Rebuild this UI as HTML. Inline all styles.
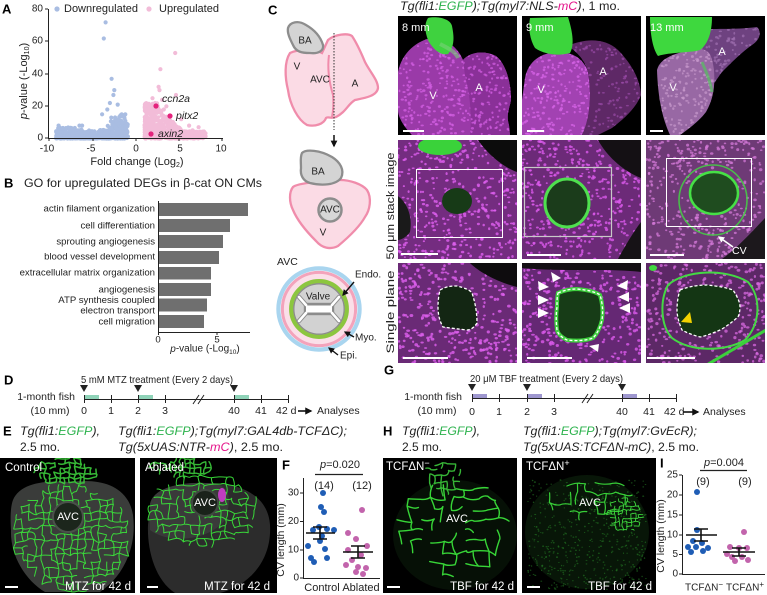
<!DOCTYPE html>
<html><head><meta charset="utf-8">
<style>
html,body{margin:0;padding:0;background:#fff;width:767px;height:595px;overflow:hidden}
svg{display:block;font-family:"Liberation Sans",Arial,sans-serif}
text{dominant-baseline:central}
.b{font-weight:bold;font-size:13px}
.i{font-style:italic}
</style></head><body>
<svg id="s" width="767" height="595" viewBox="0 0 767 595" xmlns="http://www.w3.org/2000/svg">
<defs id="defs">
<marker id="ah" viewBox="0 0 10 10" refX="8" refY="5" markerWidth="4.5" markerHeight="4.5" orient="auto"><path d="M0,0 L10,5 L0,10 Z" fill="#111"/></marker>
<marker id="ahw" viewBox="0 0 10 10" refX="8" refY="5" markerWidth="4" markerHeight="4" orient="auto"><path d="M0,0 L10,5 L0,10 Z" fill="#fff"/></marker>
<clipPath id="c21"><rect x="398" y="140" width="119" height="119"/></clipPath>
<clipPath id="c22"><rect x="522" y="140" width="119" height="119"/></clipPath>
<clipPath id="c23"><rect x="646" y="140" width="119" height="119"/></clipPath>
<clipPath id="c31"><rect x="398" y="263" width="119" height="100"/></clipPath>
<clipPath id="c32"><rect x="522" y="263" width="119" height="100"/></clipPath>
<clipPath id="c33"><rect x="646" y="263" width="119" height="100"/></clipPath>
<clipPath id="cE1"><rect x="0" y="458" width="135" height="135"/></clipPath>
<clipPath id="cE2"><rect x="140" y="458" width="137" height="135"/></clipPath>
<clipPath id="cH1"><rect x="383" y="458" width="134" height="135"/></clipPath>
<clipPath id="cH2"><rect x="522" y="458" width="134" height="135"/></clipPath>
</defs>

<!-- ================= A ================= -->
<text x="2" y="9" class="b">A</text>
<circle cx="57" cy="9" r="2.6" fill="#a9bde2"/>
<text x="64" y="9" font-size="11" textLength="74" lengthAdjust="spacingAndGlyphs" fill="#222">Downregulated</text>
<circle cx="149" cy="9" r="2.6" fill="#f2bcd8"/>
<text x="159" y="9" font-size="11" textLength="60" lengthAdjust="spacingAndGlyphs" fill="#222">Upregulated</text>
<g id="volc"></g>
<circle cx="156" cy="106" r="2.6" fill="#e4237c"/>
<circle cx="170" cy="116" r="2.6" fill="#e4237c"/>
<circle cx="151" cy="134" r="2.6" fill="#e4237c"/>
<g font-size="10.5" class="i" fill="#222">
<text x="162" y="99">ccn2a</text>
<text x="176" y="116">pitx2</text>
<text x="158" y="134">axin2</text>
</g>
<g stroke="#222" stroke-width="1" fill="none">
<path d="M48.5,9 V138.5 H223"/>
<path d="M45,9H48M45,41H48M45,74H48M45,106H48M45,138H48"/>
<path d="M49,138V141M93,138V141M136,138V141M179,138V141M222,138V141"/>
</g>
<g font-size="10" text-anchor="end" fill="#222">
<text x="43" y="9">80</text><text x="43" y="41">60</text><text x="43" y="74">40</text><text x="43" y="106">20</text><text x="43" y="138">0</text>
</g>
<g font-size="10" text-anchor="middle" fill="#222">
<text x="47" y="149">-10</text><text x="91" y="149">-5</text><text x="136" y="149">0</text><text x="180" y="149">5</text><text x="221" y="149">10</text>
</g>
<text x="137" y="162" font-size="11" text-anchor="middle" fill="#222">Fold change (Log<tspan font-size="7" dy="3">2</tspan><tspan dy="-3">)</tspan></text>
<text transform="translate(24,81) rotate(-90)" font-size="11" text-anchor="middle" fill="#222"><tspan class="i">p</tspan>-value (-Log<tspan font-size="7" dy="3">10</tspan><tspan dy="-3">)</tspan></text>

<!-- ================= B ================= -->
<text x="4" y="183" class="b">B</text>
<text x="24" y="183" font-size="12" textLength="238" lengthAdjust="spacingAndGlyphs" fill="#222">GO for upregulated DEGs in β-cat ON CMs</text>
<g fill="#6f6f6f">
<rect x="158" y="203" width="90" height="13"/>
<rect x="158" y="219" width="72" height="13"/>
<rect x="158" y="235" width="65" height="13"/>
<rect x="158" y="251" width="61" height="13"/>
<rect x="158" y="267" width="53" height="12.5"/>
<rect x="158" y="283" width="53" height="13"/>
<rect x="158" y="298.5" width="49" height="13"/>
<rect x="158" y="315" width="46" height="13"/>
</g>
<g stroke="#222" stroke-width="1" fill="none">
<path d="M158.5,201 V332.5 H250"/>
<path d="M158.5,332V335M217,332V335"/>
</g>
<g font-size="9.6" text-anchor="end" fill="#222">
<text x="155" y="209">actin filament organization</text>
<text x="155" y="226">cell differentiation</text>
<text x="155" y="242">sprouting angiogenesis</text>
<text x="155" y="257">blood vessel development</text>
<text x="155" y="273">extracellular matrix organization</text>
<text x="155" y="290">angiogenesis</text>
<text x="155" y="300.5">ATP synthesis coupled</text>
<text x="155" y="311">electron transport</text>
<text x="155" y="322">cell migration</text>
</g>
<g font-size="9.6" text-anchor="middle" fill="#222">
<text x="158" y="340">0</text><text x="217" y="340">5</text>
</g>
<text x="205" y="349" font-size="10" text-anchor="middle" fill="#222"><tspan class="i">p</tspan>-value (-Log<tspan font-size="6.5" dy="3">10</tspan><tspan dy="-3">)</tspan></text>

<!-- ================= C diagram ================= -->
<text x="268" y="10" class="b">C</text>
<path d="M290,53 C298,49 315,49 322,53 L328,40 C335,34 348,33 352,36 C358,45 362,55 365,62 C370,72 378,80 378,88 C377,96 365,98 355,100 C348,104 346,112 336,117 C330,119 328,116 326,118 C324,124 315,127 307,125 C298,120 290,105 288,90 C285,78 284,62 290,53 Z" fill="#fbdbe5" stroke="#f08cab" stroke-width="2.3"/>
<path d="M329,55 C327,70 330,85 333,95 C334,105 333,112 332,117" fill="none" stroke="#f08cab" stroke-width="2"/>
<path d="M288,28 C290,22 298,20 306,25 C313,29 320,35 323,45 C324,51 318,54 310,53 C302,53 296,52 293,45 C290,39 287,33 288,28 Z" fill="#d4d4d4" stroke="#8d8d8d" stroke-width="2.3"/>
<line x1="334" y1="33" x2="334" y2="130" stroke="#333" stroke-width="1" stroke-dasharray="1.5,1.5"/>
<g font-size="10" fill="#222">
<text x="305" y="41" text-anchor="middle">BA</text>
<text x="297" y="67" text-anchor="middle">V</text>
<text x="320" y="80" text-anchor="middle">AVC</text>
<text x="355" y="84" text-anchor="middle">A</text>
</g>
<line x1="334" y1="135" x2="334" y2="146" stroke="#111" stroke-width="1.5" marker-end="url(#ah)"/>
<path d="M293,187 C297,183 330,180 340,180 C350,180 362,184 367,190 C372,198 370,210 365,217 C360,226 350,236 338,246 C330,250 322,248 316,241 C308,233 298,222 293,210 C289,202 289,192 293,187 Z" fill="#fbdbe5" stroke="#f08cab" stroke-width="2.3"/>
<path d="M302,153 C306,149 320,150 332,157 C340,162 345,170 341,178 C336,185 322,186 310,183 C303,181 300,175 301,168 C301,162 300,157 302,153 Z" fill="#d4d4d4" stroke="#8d8d8d" stroke-width="2.3"/>
<circle cx="330" cy="210" r="11.5" fill="#d7d7d7" stroke="#8d8d8d" stroke-width="2.5"/>
<g font-size="10" fill="#222" text-anchor="middle">
<text x="318" y="172">BA</text>
<text x="330" y="210">AVC</text>
<text x="323" y="233">V</text>
</g>
<text x="277" y="262" font-size="10.5" fill="#222">AVC</text>
<circle cx="319" cy="309" r="40.6" fill="none" stroke="#a9d5ef" stroke-width="4.2"/>
<circle cx="319" cy="309" r="36.6" fill="#fbdfe8" stroke="#f3a3bb" stroke-width="3"/>
<circle cx="319" cy="309" r="27.8" fill="none" stroke="#8cc63f" stroke-width="4.3"/>
<circle cx="319" cy="309" r="25.2" fill="#d2d2d2" stroke="#8c8c8c" stroke-width="1.3"/>
<g stroke="#8c8c8c" stroke-width="4.4" stroke-linecap="round" fill="none">
<path d="M306,305 L299,297 M332,305 L339,297 M306,313 L299,321 M332,313 L339,321"/>
<rect x="306" y="305" width="26" height="8"/>
</g>
<g stroke="#fff" stroke-width="2.6" stroke-linecap="round" fill="none">
<path d="M306,305 L299,297 M332,305 L339,297 M306,313 L299,321 M332,313 L339,321"/>
</g>
<rect x="306" y="305.5" width="26" height="7" fill="#fff"/>
<text x="318" y="297" font-size="10" text-anchor="middle" fill="#222">Valve</text>
<g font-size="10" fill="#222">
<text x="355" y="275">Endo.</text>
<text x="355" y="338">Myo.</text>
<text x="340" y="356">Epi.</text>
</g>
<g stroke="#111" stroke-width="1.4">
<line x1="354" y1="282" x2="343" y2="295" marker-end="url(#ah)"/>
<line x1="354" y1="337" x2="345" y2="332" marker-end="url(#ah)"/>
<line x1="338" y1="355" x2="329" y2="348" marker-end="url(#ah)"/>
</g>

<!-- ================= C micrographs ================= -->
<text x="400" y="7" font-size="11.5" class="i" fill="#222" textLength="220" lengthAdjust="spacingAndGlyphs">Tg(fli1:<tspan fill="#2bb24c">EGFP</tspan>);Tg(myl7:NLS-<tspan fill="#e5168b">mC</tspan>)<tspan font-style="normal">, 1 mo.</tspan></text>
<text transform="translate(391,206) rotate(-90)" text-anchor="middle" font-size="11" fill="#222" textLength="107" lengthAdjust="spacingAndGlyphs">50 μm stack image</text>
<text transform="translate(391,312) rotate(-90)" text-anchor="middle" font-size="11" fill="#222" textLength="83" lengthAdjust="spacingAndGlyphs">Single plane</text>

<!-- row 1 -->
<rect x="398" y="16" width="119" height="119" fill="#000"/>
<rect x="522" y="16" width="119" height="119" fill="#000"/>
<rect x="646" y="16" width="119" height="119" fill="#000"/>
<path id="h1a" d="M398,72 C402,52 418,40 432,38 C447,38 458,48 463,60 C470,52 484,50 496,56 C506,64 511,82 511,100 C509,110 506,115 509,125 L510,135 L412,135 C405,128 398,118 398,110 Z" fill="#9a3aa8"/>
<path id="h1b" d="M463,60 C470,52 484,50 496,56 C506,64 511,82 511,100 C509,110 506,115 509,125 L510,135 L470,135 C472,115 470,95 465,75 Z" fill="#8a3098"/>
<path d="M428,18 C436,16 450,18 452,26 C454,36 455,46 448,54 C440,56 432,48 428,40 C425,32 424,24 428,18 Z" fill="#3fd23f"/>
<path d="M440,44 C448,48 456,52 458,58" stroke="#7ad07a" stroke-width="4" fill="none" opacity=".6"/>
<path id="h2a" d="M525,78 C528,62 540,52 560,52 C575,53 584,60 588,72 C592,95 590,120 582,135 L522,135 L522,100 Z" fill="#a242b2"/>
<path id="h2b" d="M568,46 C585,38 605,38 618,50 C630,62 640,78 641,95 C636,108 625,118 612,128 L598,135 L582,135 C590,118 592,95 588,72 C585,60 577,52 568,46 Z" fill="#5e2866"/>
<path d="M530,18 L568,17 C572,30 575,44 570,53 C560,56 545,55 535,48 C530,40 528,28 530,18 Z" fill="#3cd43c"/>
<path id="h3b" d="M696,30 C712,28 735,30 757,27 C762,32 760,40 752,45 C742,52 732,62 722,72 C716,80 712,88 710,86 C705,70 700,55 696,30 Z" fill="#6e4280"/>
<path id="h3a" d="M657,70 C660,58 675,52 700,49 C710,50 712,56 714,70 C715,85 714,98 706,112 C700,120 690,128 680,135 L670,135 C663,120 658,100 657,70 Z" fill="#9868a4"/>
<path d="M650,17 L712,17 C712,32 708,44 700,50 C690,53 670,52 658,56 C652,48 650,30 650,17 Z" fill="#3ed83e"/>
<path d="M702,62 C706,72 710,80 712,92" stroke="#55c060" stroke-width="3" fill="none" opacity=".7"/>
<g fill="#fff" font-size="11">
<text x="402" y="28">8 mm</text>
<text x="526" y="28">9 mm</text>
<text x="650" y="28">13 mm</text>
</g>
<g fill="#fff" font-size="11" text-anchor="middle">
<text x="433" y="96">V</text><text x="479" y="88">A</text>
<text x="541" y="90">V</text><text x="603" y="72">A</text>
<text x="673" y="88">V</text><text x="722" y="52">A</text>
</g>
<g stroke="#fff" stroke-width="2">
<line x1="403" y1="131" x2="424" y2="131"/>
<line x1="527" y1="131" x2="544" y2="131"/>
<line x1="650" y1="131" x2="663" y2="131"/>
</g>

<!-- row 2 -->
<g clip-path="url(#c21)">
<rect x="398" y="140" width="119" height="119" fill="#742c80"/>
<g id="sp21"></g>
<path d="M478,140 L517,140 L517,172 C505,168 488,155 478,140 Z" fill="#0c0c0c"/>
<path d="M398,196 C406,202 413,215 410,232 C406,238 400,240 398,240 Z" fill="#1a1a1a"/>
<ellipse cx="440" cy="146" rx="22" ry="9" fill="#3ad23a"/>
<ellipse cx="457" cy="201" rx="15" ry="13" fill="#173a17"/>
<rect x="416.5" y="169.5" width="86" height="68" fill="none" stroke="#fff" stroke-width="1"/>
<line x1="401" y1="254" x2="438" y2="254" stroke="#fff" stroke-width="2"/>
</g>
<g clip-path="url(#c22)">
<rect x="522" y="140" width="119" height="119" fill="#6c2a78"/>
<g id="sp22"></g>
<path d="M598,140 L641,140 L641,178 C625,172 608,158 598,140 Z" fill="#141014"/>
<path d="M618,259 L641,259 L641,222 C632,234 624,248 618,259 Z" fill="#161216"/>
<ellipse cx="567" cy="203" rx="22" ry="24" fill="#1b3c1b" stroke="#4fe04f" stroke-width="3"/>
<rect x="524.5" y="167.5" width="87" height="69" fill="none" stroke="#c8c8c8" stroke-width="1.2"/>
<line x1="527" y1="255" x2="561" y2="255" stroke="#fff" stroke-width="2"/>
</g>
<g clip-path="url(#c23)">
<rect x="646" y="140" width="119" height="119" fill="#6e3a76"/>
<g id="sp23"></g>
<path d="M722,259 L765,259 L765,218 C750,234 735,250 722,259 Z" fill="#1c181c"/>
<ellipse cx="713" cy="200" rx="34" ry="35" fill="none" stroke="#44d444" stroke-width="1.6" opacity=".85"/>
<ellipse cx="714" cy="193" rx="24" ry="21" fill="#1f4c1f" stroke="#46e046" stroke-width="2.5"/>
<rect x="666.5" y="158.5" width="85" height="68" fill="none" stroke="#fff" stroke-width="1"/>
<line x1="733" y1="247" x2="719" y2="237" stroke="#fff" stroke-width="1.6" marker-end="url(#ahw)"/>
<text x="732" y="251" fill="#fff" font-size="10.5">CV</text>
<line x1="650" y1="255" x2="684" y2="255" stroke="#fff" stroke-width="2"/>
</g>

<!-- row 3 -->
<g clip-path="url(#c31)">
<rect x="398" y="263" width="119" height="100" fill="#6a2a76"/>
<g id="sp31"></g>
<path d="M470,263 L517,263 L517,287 C500,283 480,273 470,263 Z" fill="#0e0c0e"/>
<path d="M440,290 C447,286 452,286 457,286 C465,288 470,290 472,293 C476,305 477,315 477,323 C474,328 470,330 467,330 C458,329 450,328 443,327 C439,320 438,313 438,307 C438,300 439,294 440,290 Z" fill="#132613" stroke="#fff" stroke-width="1.3" stroke-dasharray="3,2"/>
<line x1="403" y1="358" x2="448" y2="358" stroke="#fff" stroke-width="2"/>
</g>
<g clip-path="url(#c32)">
<rect x="522" y="263" width="119" height="100" fill="#652874"/>
<g id="sp32"></g>
<path d="M522,263 L641,263 L641,272 C610,268 560,272 522,268 Z" fill="#140f14"/>
<path d="M558,293 C565,290 570,289 577,289 C588,290 596,292 600,295 C603,305 603,313 602,320 C600,328 597,334 593,338 C585,341 575,341 567,340 C561,337 558,334 557,330 C556,322 556,314 557,307 C557,301 557,297 558,293 Z" fill="#173c17" stroke="#3fcf3f" stroke-width="4"/>
<path d="M558,293 C565,290 570,289 577,289 C588,290 596,292 600,295 C603,305 603,313 602,320 C600,328 597,334 593,338 C585,341 575,341 567,340 C561,337 558,334 557,330 C556,322 556,314 557,307 C557,301 557,297 558,293 Z" fill="none" stroke="#fff" stroke-width="1.3" stroke-dasharray="3,2"/>
<g fill="#fff">
<polygon points="551,272 561,278 553,282"/>
<polygon points="538,281 549,287 539,291"/>
<polygon points="538,295 549,300 538,305"/>
<polygon points="538,308 549,313 538,318"/>
<polygon points="628,280 617,286 627,290"/>
<polygon points="629,292 618,297 629,302"/>
<polygon points="630,303 619,308 630,313"/>
<polygon points="598,352 589,346 599,344"/>
</g>
<line x1="527" y1="358" x2="572" y2="358" stroke="#fff" stroke-width="2"/>
</g>
<g clip-path="url(#c33)">
<rect x="646" y="263" width="119" height="100" fill="#5c2866"/>
<g id="sp33"></g>
<path d="M668,285 C685,270 725,268 748,282 C762,298 760,325 745,340 C725,352 690,352 672,338 C660,325 660,300 668,285 Z" fill="none" stroke="#44d844" stroke-width="2"/>
<path d="M680,290 C690,286 700,285 707,285 C718,286 728,288 733,290 C737,296 740,302 740,307 C740,311 739,315 738,317 C732,322 726,327 720,330 C713,333 706,336 700,337 C693,335 687,333 682,330 C679,323 677,316 677,310 C677,303 678,296 680,290 Z" fill="#143614" stroke="#fff" stroke-width="1.3" stroke-dasharray="3,2"/>
<polygon points="681,322 690,312 692,323" fill="#f2d200"/>
<line x1="705" y1="366" x2="766" y2="330" stroke="#3ccf3c" stroke-width="3"/>
<ellipse cx="653" cy="268" rx="4" ry="3" fill="#40d840"/>
<line x1="647" y1="358" x2="695" y2="358" stroke="#fff" stroke-width="2"/>
</g>

<!-- ================= D ================= -->
<text x="4" y="380" class="b">D</text>
<text x="81" y="380" font-size="10.5" fill="#222" textLength="152" lengthAdjust="spacingAndGlyphs">5 mM MTZ treatment (Every 2 days)</text>
<g fill="#222">
<polygon points="80,385 88,385 84,392"/>
<polygon points="134,385 142,385 138,392"/>
<polygon points="230,385 238,385 234,392"/>
</g>
<g fill="#8fd3b8">
<rect x="84" y="395" width="15" height="4"/>
<rect x="138" y="395" width="15" height="4"/>
<rect x="234" y="395" width="15" height="4"/>
</g>
<g stroke="#222" stroke-width="1" fill="none">
<path d="M84,399.5 H288"/>
<path d="M84.5,395V403M111.5,395V403M138.5,395V403M165.5,395V403M234.5,395V403M261.5,395V403M288.5,395V403"/>
<path d="M193,404 L199,395 M198,404 L204,395"/>
</g>
<g font-size="10.5" fill="#222">
<text x="75" y="397" text-anchor="end">1-month fish</text>
<text x="50" y="411" text-anchor="middle">(10 mm)</text>
<g text-anchor="middle"><text x="84" y="411">0</text><text x="111" y="411">1</text><text x="138" y="411">2</text><text x="165" y="411">3</text><text x="234" y="411">40</text><text x="261" y="411">41</text></g>
<text x="276" y="411">42 d</text>
<text x="317" y="411">Analyses</text>
</g>
<line x1="298" y1="411" x2="311" y2="411" stroke="#111" stroke-width="1.6" marker-end="url(#ah)"/>

<!-- ================= G ================= -->
<text x="384" y="370" class="b">G</text>
<text x="470" y="379" font-size="10.5" fill="#222" textLength="153" lengthAdjust="spacingAndGlyphs">20 μM TBF treatment (Every 2 days)</text>
<g fill="#222">
<polygon points="468,384 476,384 472,391"/>
<polygon points="523,384 531,384 527,391"/>
<polygon points="618,384 626,384 622,391"/>
</g>
<g fill="#9e97cf">
<rect x="472" y="394" width="15" height="4"/>
<rect x="527" y="394" width="15" height="4"/>
<rect x="622" y="394" width="15" height="4"/>
</g>
<g stroke="#222" stroke-width="1" fill="none">
<path d="M472,398.5 H676"/>
<path d="M472.5,394V402M499.5,394V402M527.5,394V402M554.5,394V402M622.5,394V402M649.5,394V402M676.5,394V402"/>
<path d="M582,403 L588,394 M587,403 L593,394"/>
</g>
<g font-size="10.5" fill="#222">
<text x="462" y="397" text-anchor="end">1-month fish</text>
<text x="437" y="411" text-anchor="middle">(10 mm)</text>
<g text-anchor="middle"><text x="472" y="412">0</text><text x="499" y="412">1</text><text x="527" y="412">2</text><text x="554" y="412">3</text><text x="622" y="412">40</text><text x="649" y="412">41</text></g>
<text x="664" y="412">42 d</text>
<text x="703" y="412">Analyses</text>
</g>
<line x1="683" y1="412" x2="698" y2="412" stroke="#111" stroke-width="1.6" marker-end="url(#ah)"/>

<!-- ================= E ================= -->
<text x="3" y="431" class="b">E</text>
<g font-size="12" fill="#222">
<text x="20" y="431" class="i" textLength="80" lengthAdjust="spacingAndGlyphs">Tg(fli1:<tspan fill="#2bb24c">EGFP</tspan>),</text>
<text x="20" y="447">2.5 mo.</text>
<text x="118" y="431" class="i" textLength="229" lengthAdjust="spacingAndGlyphs">Tg(fli1:<tspan fill="#2bb24c">EGFP</tspan>);Tg(myl7:GAL4db-TCFΔC);</text>
<text x="118" y="447" textLength="165" lengthAdjust="spacingAndGlyphs"><tspan class="i">Tg(5xUAS:NTR-</tspan><tspan class="i" fill="#e5168b">mC</tspan><tspan class="i">)</tspan>, 2.5 mo.</text>
</g>
<g clip-path="url(#cE1)">
<rect x="0" y="458" width="135" height="135" fill="#000"/>
<path d="M13,500 C20,483 45,480 70,482 C100,478 128,485 133,515 C137,545 125,575 100,592 L45,592 C25,580 10,555 11,530 C10,515 11,505 13,500 Z" fill="#3a3c3a"/>
<g id="nE1"></g>
<circle cx="68" cy="517" r="15" fill="#1c261c" stroke="#4a504a" stroke-width="2"/>
<text x="68" y="517" fill="#fff" font-size="11" text-anchor="middle">AVC</text>
<text x="5" y="468" fill="#fff" font-size="11.5">Control</text>
<text x="131" y="587" fill="#fff" font-size="11.5" text-anchor="end">MTZ for 42 d</text>
<line x1="5" y1="587" x2="18" y2="587" stroke="#fff" stroke-width="2"/>
</g>
<g clip-path="url(#cE2)">
<rect x="140" y="458" width="137" height="135" fill="#000"/>
<path d="M150,505 C152,488 180,482 205,483 C240,482 268,495 270,525 C272,560 250,585 220,593 L175,593 C155,580 147,550 148,525 Z" fill="#2c2c2c"/>
<path d="M150,505 C152,488 180,482 205,483 C225,483 235,490 225,520 C210,540 170,545 150,530 Z" fill="#3a3a3a"/>
<g id="nE2"></g>
<circle cx="205" cy="503" r="13" fill="#1a221a" stroke="#404840" stroke-width="2"/>
<ellipse cx="222" cy="495" rx="4" ry="7" fill="#c03cc0"/>
<text x="205" y="503" fill="#fff" font-size="11" text-anchor="middle">AVC</text>
<text x="145" y="468" fill="#fff" font-size="11.5">Ablated</text>
<text x="270" y="587" fill="#fff" font-size="11.5" text-anchor="end">MTZ for 42 d</text>
<line x1="147" y1="587" x2="158" y2="587" stroke="#fff" stroke-width="2"/>
</g>

<!-- ================= F ================= -->
<text x="282" y="465" class="b">F</text>
<text x="340" y="465" font-size="11" text-anchor="middle" fill="#222"><tspan class="i">p</tspan>=0.020</text>
<line x1="315" y1="474.5" x2="363" y2="474.5" stroke="#222" stroke-width="1.3"/>
<text x="324" y="486" font-size="11" text-anchor="middle" fill="#222">(14)</text>
<text x="362" y="486" font-size="11" text-anchor="middle" fill="#222">(12)</text>
<g stroke="#222" stroke-width="1" fill="none">
<path d="M303.5,478 V578.5 H380"/>
<path d="M300,493H303M300,521.5H303M300,550H303M300,578H303"/>
</g>
<g font-size="10" text-anchor="end" fill="#222">
<text x="299" y="493">30</text><text x="299" y="521.5">20</text><text x="299" y="550">10</text><text x="299" y="578">0</text>
</g>
<text transform="translate(281,540) rotate(-90)" font-size="10.5" text-anchor="middle" fill="#222">CV length (mm)</text>
<g fill="#1f5db5">
<circle cx="323" cy="493" r="3"/><circle cx="321" cy="507" r="3"/><circle cx="324" cy="512" r="3"/><circle cx="313" cy="530" r="3"/><circle cx="319" cy="527" r="3"/><circle cx="327" cy="529" r="3"/><circle cx="334" cy="530" r="3"/><circle cx="322" cy="536" r="3"/><circle cx="320" cy="541" r="3"/><circle cx="308" cy="546" r="3"/><circle cx="325" cy="549" r="3"/><circle cx="311" cy="558" r="3"/><circle cx="327" cy="558" r="3"/><circle cx="314" cy="562" r="3"/>
</g>
<g fill="#c264ac">
<circle cx="362" cy="510" r="3"/><circle cx="348" cy="533" r="3"/><circle cx="356" cy="539" r="3"/><circle cx="367" cy="546" r="3"/><circle cx="348" cy="550" r="3"/><circle cx="361" cy="555" r="3"/><circle cx="352" cy="560" r="3"/><circle cx="346" cy="565" r="3"/><circle cx="358" cy="567" r="3"/><circle cx="366" cy="568" r="3"/><circle cx="356" cy="572" r="3"/><circle cx="363" cy="574" r="3"/>
</g>
<g stroke="#111" stroke-width="1.6" fill="none">
<path d="M306,533 H335 M320,527 V539 M313,527 H327 M313,539 H327"/>
<path d="M343,552 H373 M358,546 V558 M351,546 H365 M351,558 H365"/>
</g>
<text x="322" y="588" font-size="11" text-anchor="middle" fill="#222">Control</text>
<text x="361" y="588" font-size="11" text-anchor="middle" fill="#222">Ablated</text>

<!-- ================= H ================= -->
<text x="383" y="431" class="b">H</text>
<g font-size="12" fill="#222">
<text x="402" y="431" class="i" textLength="78" lengthAdjust="spacingAndGlyphs">Tg(fli1:<tspan fill="#2bb24c">EGFP</tspan>),</text>
<text x="402" y="447">2.5 mo.</text>
<text x="523" y="431" class="i" textLength="174" lengthAdjust="spacingAndGlyphs">Tg(fli1:<tspan fill="#2bb24c">EGFP</tspan>);Tg(myl7:GvEcR);</text>
<text x="523" y="447" textLength="176" lengthAdjust="spacingAndGlyphs"><tspan class="i">Tg(5xUAS:TCFΔN-mC)</tspan>, 2.5 mo.</text>
</g>
<g clip-path="url(#cH1)">
<rect x="383" y="458" width="134" height="135" fill="#000"/>
<ellipse cx="455" cy="535" rx="62" ry="55" fill="#061006"/>
<g id="nH1"></g>
<text x="457" y="519" fill="#fff" font-size="11" text-anchor="middle">AVC</text>
<text x="386" y="467" fill="#fff" font-size="11.5">TCFΔN<tspan font-size="9" dy="-4">−</tspan></text>
<text x="514" y="587" fill="#fff" font-size="11.5" text-anchor="end">TBF for 42 d</text>
<line x1="387" y1="587" x2="400" y2="587" stroke="#fff" stroke-width="2"/>
</g>
<g clip-path="url(#cH2)">
<rect x="522" y="458" width="134" height="135" fill="#000"/>
<ellipse cx="587" cy="532" rx="62" ry="57" fill="#081608"/>
<g id="nH2"></g>
<text x="590" y="503" fill="#fff" font-size="11" text-anchor="middle">AVC</text>
<text x="526" y="467" fill="#fff" font-size="11.5">TCFΔN<tspan font-size="9" dy="-4">+</tspan></text>
<text x="652" y="587" fill="#fff" font-size="11.5" text-anchor="end">TBF for 42 d</text>
<line x1="527" y1="587" x2="540" y2="587" stroke="#fff" stroke-width="2"/>
</g>

<!-- ================= I ================= -->
<text x="660" y="463" class="b">I</text>
<text x="724" y="463" font-size="11" text-anchor="middle" fill="#222"><tspan class="i">p</tspan>=0.004</text>
<line x1="700" y1="470.5" x2="747" y2="470.5" stroke="#222" stroke-width="1.3"/>
<text x="703" y="482" font-size="11" text-anchor="middle" fill="#222">(9)</text>
<text x="745" y="482" font-size="11" text-anchor="middle" fill="#222">(9)</text>
<g stroke="#222" stroke-width="1" fill="none">
<path d="M682.5,475 V574.5 H765"/>
<path d="M679,475H682M679,495H682M679,515H682M679,535H682M679,554.5H682M679,574H682"/>
</g>
<g font-size="10" text-anchor="end" fill="#222">
<text x="678" y="475">25</text><text x="678" y="495">20</text><text x="678" y="515">15</text><text x="678" y="535">10</text><text x="678" y="554.5">5</text><text x="678" y="574">0</text>
</g>
<text transform="translate(661,536) rotate(-90)" font-size="10.5" text-anchor="middle" fill="#222">CV length (mm)</text>
<g fill="#1f5db5">
<circle cx="697" cy="492" r="3"/><circle cx="697" cy="530" r="3"/><circle cx="693" cy="541" r="3"/><circle cx="702" cy="543" r="3"/><circle cx="688" cy="547" r="3"/><circle cx="708" cy="548" r="3"/><circle cx="696" cy="547" r="3"/><circle cx="703" cy="551" r="3"/><circle cx="691" cy="552" r="3"/>
</g>
<g fill="#c264ac">
<circle cx="744" cy="532" r="3"/><circle cx="730" cy="547" r="3"/><circle cx="739" cy="548" r="3"/><circle cx="747" cy="548" r="3"/><circle cx="732" cy="557" r="3"/><circle cx="742" cy="557" r="3"/><circle cx="735" cy="561" r="3"/><circle cx="727" cy="554" r="3"/><circle cx="748" cy="560" r="3"/>
</g>
<g stroke="#111" stroke-width="1.6" fill="none">
<path d="M686,535 H717 M701,529 V541 M694,529 H708 M694,541 H708"/>
<path d="M723,552 H755 M739,548 V556 M732,548 H746 M732,556 H746"/>
</g>
<text x="704" y="588" font-size="10" text-anchor="middle" fill="#222">TCFΔN<tspan font-size="8" dy="-4">−</tspan></text>
<text x="745" y="588" font-size="10" text-anchor="middle" fill="#222">TCFΔN<tspan font-size="8" dy="-4">+</tspan></text>
</svg>
<script>
(function(){
var NS="http://www.w3.org/2000/svg";
function R(s){return function(){s=(s*16807)%2147483647;return (s-1)/2147483646;};}
function M(a){return function(){a|=0;a=a+0x6D2B79F5|0;var t=Math.imul(a^a>>>15,1|a);t=t+Math.imul(t^t>>>7,61|t)^t;return((t^t>>>14)>>>0)/4294967296;};}
function el(p,t,a){var e=document.createElementNS(NS,t);for(var k in a)e.setAttribute(k,a[k]);p.appendChild(e);return e;}
function $(id){return document.getElementById(id);}
/* volcano */
var gv=$('volc'),r=R(12345);
function vx(v){return 136+v*8.7;}function vy(p){return 138.5-p*1.6125;}
function dot(x,p,c){el(gv,'circle',{cx:vx(x).toFixed(1),cy:vy(p).toFixed(1),r:2.1,fill:c});}
var B='#a9bde2',P='#f2bcd8',i,x,m,p;
for(i=0;i<480;i++){x=-9.2+r()*8.3;if(x<-7)m=7;else if(x<-3.5)m=5.5;else if(x<-1.8)m=7;else m=10;p=Math.pow(r(),1.8)*m;dot(x,p,B);}
for(i=0;i<35;i++){x=-3.3+r()*2.2;p=6+r()*9;dot(x,p,B);}
[[-3.5,72],[-3.7,62],[-2.8,37],[-2.5,30],[-2.6,27],[-3.0,22],[-2.1,21],[-3.3,18],[-3.9,15],[-2.4,13],[-2.0,12],[-1.6,14],[-1.3,10],[-1.7,11],[-8.9,8],[-8.4,6.5],[-6.5,8],[-6.2,8]].forEach(function(a){dot(a[0],a[1],B);});
for(i=0;i<560;i++){x=1+Math.pow(r(),1.5)*7;m=x<2.5?22:x<4?22-(x-2.5)*7:x<5.5?11.5-(x-4)*5:4.5;p=Math.pow(r(),1.5)*m;dot(x,p,P);}
[[4.5,53],[2.8,43],[2.6,32],[2.7,30],[4.6,27],[1.9,25],[3.5,20],[3.2,18],[5.2,12],[6.1,8],[7.2,7],[7.8,4],[6.5,5],[3.0,24],[2.2,22]].forEach(function(a){dot(a[0],a[1],P);});
/* speckles */
function speckInto(g,x0,y0,w,h,n,seed,c,rad,op){var rr=M(seed);for(var k=0;k<n;k++){el(g,'ellipse',{cx:(x0+rr()*w).toFixed(1),cy:(y0+rr()*h).toFixed(1),rx:(rad*(0.7+rr()*0.6)).toFixed(2),ry:(rad*(0.6+rr()*0.5)).toFixed(2),fill:c,opacity:op});}}
function speck(id,x0,y0,w,h,n,seed,c,rad,op){speckInto($(id),x0,y0,w,h,n,seed,c,rad,op);}
speck('sp21',398,140,119,119,420,11,'#e060f0',1.4,.8);
speck('sp22',522,140,119,119,420,12,'#dc5aec',1.4,.8);
speck('sp23',646,140,119,119,420,13,'#d47ad8',1.4,.75);
speck('sp31',398,263,119,100,340,14,'#e060f0',1.5,.8);
speck('sp32',522,263,119,100,340,15,'#dc5aec',1.5,.8);
speck('sp33',646,263,119,100,340,16,'#d86ae0',1.5,.75);
/* row-1 shape speckles */
var defs=$('defs');
function shapeSpeck(id,seed,n,c,op){var s=$(id);var cp=el(defs,'clipPath',{id:'cp_'+id});el(cp,'path',{d:s.getAttribute('d')});
 var g=document.createElementNS(NS,'g');g.setAttribute('clip-path','url(#cp_'+id+')');s.parentNode.insertBefore(g,s.nextSibling);
 var bb=s.getBBox();speckInto(g,bb.x,bb.y,bb.width,bb.height,n,seed,c,1.3,op);}
shapeSpeck('h1a',21,380,'#d460e4',.75);
shapeSpeck('h1b',22,150,'#d05ce0',.75);
shapeSpeck('h2a',23,220,'#d865e8',.75);
shapeSpeck('h2b',24,180,'#9a4aa8',.7);
shapeSpeck('h3a',25,200,'#c898cc',.7);
shapeSpeck('h3b',26,120,'#a070b0',.7);
/* vessel networks: jittered grid mesh */
function grid(gid,seed,box,step,inside,pr,stroke,sw,op,jit){
 var g=$(gid),rr=M(seed),cols=Math.ceil((box[2]-box[0])/step)+1,rows=Math.ceil((box[3]-box[1])/step)+1,G=[],d='';
 for(var j=0;j<rows;j++){G[j]=[];for(var i=0;i<cols;i++){G[j][i]=[box[0]+i*step+(rr()-0.5)*jit,box[1]+j*step+(rr()-0.5)*jit];}}
 function seg(A,Bp){if(!inside(A[0],A[1])||!inside(Bp[0],Bp[1]))return;var mx=(A[0]+Bp[0])/2+(rr()-0.5)*step*0.6,my=(A[1]+Bp[1])/2+(rr()-0.5)*step*0.6;
  d+='M'+A[0].toFixed(1)+','+A[1].toFixed(1)+'Q'+mx.toFixed(1)+','+my.toFixed(1)+' '+Bp[0].toFixed(1)+','+Bp[1].toFixed(1);}
 for(var j2=0;j2<rows;j2++)for(var i2=0;i2<cols;i2++){
  if(i2+1<cols&&rr()<pr)seg(G[j2][i2],G[j2][i2+1]);
  if(j2+1<rows&&rr()<pr)seg(G[j2][i2],G[j2+1][i2]);
 }
 el(g,'path',{d:d,fill:'none',stroke:stroke,'stroke-width':sw,opacity:op,'stroke-linecap':'round'});
}
function ell(cx,cy,rx,ry){return function(x,y){var a=(x-cx)/rx,b=(y-cy)/ry;return a*a+b*b<1;};}
grid('nE1',101,[8,478,138,596],7,ell(72,537,61,56),0.78,'#3ae03a',1,.95,4);
grid('nE1',102,[30,458,100,492],5,ell(65,472,33,16),0.7,'#3ccc3c',1.5,.9,3);
grid('nE2',103,[142,470,265,560],7,ell(203,510,58,38),0.68,'#3ae03a',1,.95,4);
grid('nE2',104,[150,458,215,482],5,ell(182,467,33,11),0.6,'#3ccc3c',1.4,.9,3);
grid('nH1',105,[388,476,520,590],11,ell(452,528,62,50),0.5,'#3ae03a',1.4,.95,6);
grid('nH1',106,[418,458,468,500],6,ell(442,478,22,18),0.55,'#3cc83c',1.4,.9,4);
speck('nH2',528,480,118,110,500,107,'#1f6a1f',0.8,.7);
grid('nH2',108,[603,494,646,536],4,ell(624,515,20,18),0.7,'#40e040',0.9,.95,2);
grid('nH2',109,[542,476,642,526],9,ell(592,500,48,22),0.45,'#3ad83a',1.2,.95,5);
})();
</script>
</body></html>
